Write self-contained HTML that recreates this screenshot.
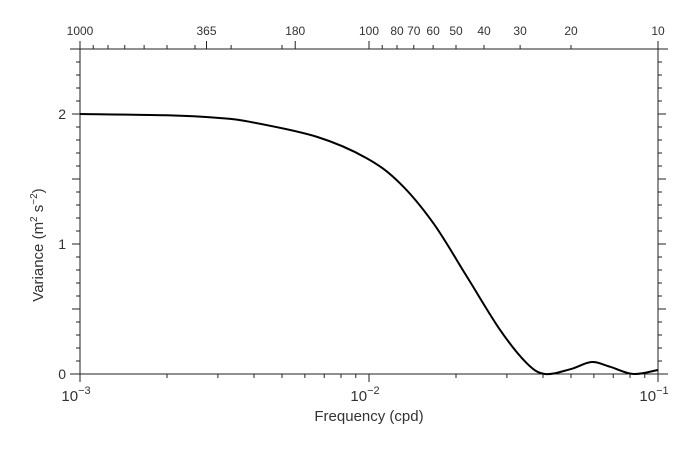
<!DOCTYPE html>
<html><head><meta charset="utf-8"><style>
html,body{margin:0;padding:0;background:#fff;width:691px;height:454px;overflow:hidden}
svg{display:block;font-family:"Liberation Sans",sans-serif}
</style></head><body>
<svg id="chart" width="691" height="454" viewBox="0 0 691 454"></svg>
<script>
const freqs=[0.001,0.002,0.003,0.00387,0.00659,0.00982,0.0128,0.0167,0.0218,0.0284,0.0351,0.0406,0.0496,0.0589,0.0682,0.0822,0.1];
const variance=[2.0,1.99,1.97,1.94,1.825,1.66,1.467,1.16,0.75,0.34,0.084,0.0,0.036,0.092,0.056,0.0,0.031];
const yTicks=[0,1,2];
const xTickExps=[-3,-2,-1];
const periodLabels=[1000,365,180,100,80,70,60,50,40,30,20,10];
const periodMinor=[900,800,700,600,500,400,300,200,90];
const L=80,R=658,T=49,B=374,yMax=2.5;
const sx=f=>L+(Math.log10(f)+3)/2*(R-L);
const sy=v=>B-v/yMax*(B-T);
const NS="http://www.w3.org/2000/svg";
const svg=document.getElementById('chart');
function mk(tag,attrs,parent){const e=document.createElementNS(NS,tag);for(const k in attrs)e.setAttribute(k,attrs[k]);(parent||svg).appendChild(e);return e;}
const col="#222";
// axes
let a=mk('line',{x1:L-10,y1:B,x2:R+10,y2:B,stroke:col,'stroke-width':1});


a=mk('line',{x1:L-10,y1:T,x2:R+10,y2:T,stroke:col,'stroke-width':1});


a=mk('line',{x1:L,y1:T-4,x2:L,y2:B+8,stroke:col,'stroke-width':1});


a=mk('line',{x1:R,y1:T-8,x2:R,y2:B+8,stroke:col,'stroke-width':1});


// y ticks
for(let i=0;i<=25;i++){const v=i/10,y=sy(v),maj=(i%5===0),len=maj?8:4;
 let t=mk('line',{x1:L-len,y1:y,x2:L,y2:y,stroke:col});
 
 
 t=mk('line',{x1:R,y1:y,x2:R+len,y2:y,stroke:col});
 
 }
yTicks.forEach(v=>{const t=mk('text',{x:66,y:sy(v)+5,'text-anchor':'end','font-size':14,fill:'#333'});t.textContent=v;
 
 });
// x ticks bottom
for(let e=-3;e<-1;e++)for(let m=1;m<10;m++){const x=sx(m*Math.pow(10,e));const len=m===1?8:4;
 const t=mk('line',{x1:x,y1:B,x2:x,y2:B+len,stroke:col});
 
 }
{const t=mk('line',{x1:R,y1:B,x2:R,y2:B+8,stroke:col});}
xTickExps.forEach(e=>{const t=mk('text',{x:sx(Math.pow(10,e))-4,y:401,'text-anchor':'middle','font-size':15,fill:'#333'});
 t.textContent='10';const s=mk('tspan',{dy:-7,'font-size':11},t);s.textContent='\u2212'+(-e);
 
 });
// top period ticks
periodMinor.forEach(p=>{const x=sx(1/p);const t=mk('line',{x1:x,y1:T,x2:x,y2:T-4,stroke:col});
 
 });
periodLabels.forEach(p=>{const x=sx(1/p);const maj=[1000,365,180,100,10].includes(p);
 const t=mk('line',{x1:x,y1:T,x2:x,y2:T-(maj?8:4),stroke:col});
 
 
 const l=mk('text',{x:x,y:35,'text-anchor':'middle','font-size':12,fill:'#333'});l.textContent=p;
 
 });
// titles
let tt=mk('text',{x:369,y:421,'text-anchor':'middle','font-size':15,fill:'#333'});tt.textContent='Frequency (cpd)';


tt=mk('text',{x:0,y:0,'text-anchor':'middle','font-size':15,fill:'#333',transform:'translate(43,245) rotate(-90)'});
tt.appendChild(document.createTextNode('Variance (m'));
let s=mk('tspan',{dy:-6,'font-size':10},tt);s.textContent='2';
s=mk('tspan',{dy:6},tt);s.textContent=' s';
s=mk('tspan',{dy:-6,'font-size':10},tt);s.textContent='\u22122';
s=mk('tspan',{dy:6},tt);s.textContent=')';


// curve (Catmull-Rom smoothing through data points)
const P=freqs.map((f,i)=>[sx(f),sy(variance[i])]);
let d='M'+P[0][0]+','+P[0][1];
for(let i=0;i<P.length-1;i++){const p0=P[Math.max(0,i-1)],p1=P[i],p2=P[i+1],p3=P[Math.min(P.length-1,i+2)];
 d+=' C'+(p1[0]+(p2[0]-p0[0])/6)+','+(p1[1]+(p2[1]-p0[1])/6)+' '+(p2[0]-(p3[0]-p1[0])/6)+','+(p2[1]-(p3[1]-p1[1])/6)+' '+p2[0]+','+p2[1];}
const c=mk('path',{d:d,fill:'none',stroke:'#000','stroke-width':2});


</script>
</body></html>
